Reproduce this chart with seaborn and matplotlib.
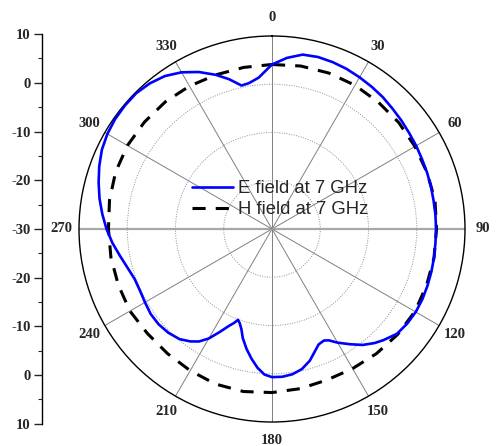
import numpy as np
import matplotlib
matplotlib.use("Agg")
import matplotlib.pyplot as plt
import seaborn as sns

# E field (blue) : angle in degrees, level in dB
e_angle = [0, 5, 10, 15, 20, 25, 30, 35, 40, 45, 50, 55, 60, 65, 70, 75, 80, 85,
           90, 95, 100, 105, 110, 115, 120, 125, 130, 135, 138, 142, 146, 150,
           153, 155, 158, 161, 164, 168, 172, 176, 180, 183, 186, 189, 192, 195,
           197, 199, 200.5, 202, 204, 207, 210, 213, 216, 220, 225, 230, 235,
           240, 245, 250, 255, 260, 265, 270, 275, 280, 285, 290, 295, 300,
           305, 310, 315, 320, 325, 330, 335, 340, 344, 348, 351, 355, 360]
e_db = [4.1, 5.6, 6.7, 6.9, 6.8, 6.6, 6.3, 6.0, 5.7, 5.3, 5.0, 4.7, 4.5, 4.3,
        4.2, 4.1, 4.0, 4.0, 4.0, 4.0, 4.1, 4.2, 4.3, 4.4, 4.4, 4.2, 3.8, 2.6,
        1.8, 0.5, -1.2, -2.8, -4.1, -4.5, -4.2, -3.0, -1.6, -0.3, 0.4, 0.7,
        0.7, 0.2, -1.1, -2.8, -4.6, -6.6, -8.3, -9.4, -9.9, -9.0, -8.0, -6.0,
        -3.8, -2.2, -1.2, -0.2, 0.4, 0.7, 0.7, 0.4, 0.2, 0.3, 1.0, 2.0, 3.2,
        4.3, 5.3, 6.3, 7.2, 8.1, 8.9, 9.4, 9.7, 9.8, 9.8, 9.4, 8.7, 7.5, 5.9,
        4.0, 2.3, 0.4, 0.6, 1.5, 4.1]

# H field (black dashed)
h_angle = list(range(0, 361, 10))
h_db = [4.1, 4.3, 4.4, 4.4, 4.3, 4.3, 4.2, 4.2, 4.3, 4.1, 4.1, 4.1, 4.2, 4.0,
        3.7, 3.4, 3.3, 3.6, 3.9, 4.2, 4.2, 3.9, 3.7, 3.7, 4.0, 3.9, 3.9, 3.9,
        4.2, 4.5, 4.6, 4.5, 4.4, 4.2, 4.0, 4.0, 4.1]

theta_labels = [str(a) for a in range(0, 360, 30)]
left_labels = ["10", "0", "-10", "-20", "-30", "-20", "-10", "0", "10"]

sns.set_style("white")
plt.rcParams["font.family"] = ["Liberation Serif", "DejaVu Serif"]

fig = plt.figure(figsize=(5, 4.46), dpi=100)
ax = fig.add_axes([0.158, 0.0538, 0.772, 0.8655], projection="polar")
ax.set_theta_zero_location("N")
ax.set_theta_direction(-1)

sns.lineplot(x=np.deg2rad(e_angle), y=e_db, ax=ax, sort=False, color="#0000ff",
             lw=1.9, label="E field at 7 GHz", zorder=4)
sns.lineplot(x=np.deg2rad(h_angle), y=h_db, ax=ax, sort=False, color="black",
             lw=2.2, label="H field at 7 GHz", zorder=3)
ax.lines[1].set_linestyle((0, (4.3, 3.3)))

ax.set_ylim(-30, 10)
ax.set_yticks([-20, -10, 0])
ax.set_yticklabels([])
ax.set_xticks(np.deg2rad(np.arange(0, 360, 30)))
ax.set_xticklabels(theta_labels, fontweight="bold", fontsize=10.5)
ax.set_xticks(np.deg2rad(np.arange(15, 360, 30)), minor=True)
ax.tick_params(axis="x", which="major", pad=6, direction="in", length=5)
ax.tick_params(axis="x", which="minor", direction="in", length=4, width=0.8)
ax.xaxis.grid(True, color="#808080", ls="-", lw=0.7)
ax.yaxis.grid(True, color="#909090", ls=(0, (1, 1.5)), lw=0.7)
# the 90-270 line is drawn wider and lighter
for i in (3, 9):
    gl = ax.xaxis.get_gridlines()[i]
    gl.set_linewidth(1.6)
    gl.set_color("#a8a8a8")
ax.spines["polar"].set_color("black")
ax.spines["polar"].set_linewidth(1.0)
ax.set_xlabel("")
ax.set_ylabel("")

ax.legend(loc="center left", bbox_to_anchor=(0.366, 0.553),
          bbox_transform=fig.transFigure, frameon=False, borderpad=0,
          handlelength=2.2, handletextpad=0.3, labelspacing=0.22,
          prop={"family": ["Liberation Sans"], "size": 13.3})

# left linear scale
ax2 = fig.add_axes([0.084, 0.0504, 0.0001, 0.873])
for s in ["top", "right", "bottom"]:
    ax2.spines[s].set_visible(False)
ax2.spines["left"].set_color("black")
ax2.spines["left"].set_linewidth(1.0)
ax2.set_ylim(-40, 40)
ax2.set_yticks(np.arange(40, -41, -10))
ax2.set_yticklabels(left_labels, fontweight="bold", fontsize=10.5)
ax2.set_yticks(np.arange(-35, 40, 10), minor=True)
ax2.set_xticks([])
ax2.tick_params(axis="y", which="major", direction="out", length=6, width=1.0,
                pad=2, left=True)
ax2.tick_params(axis="y", which="minor", direction="out", length=3, width=0.8,
                left=True)

fig.savefig("out.png", dpi=100)
